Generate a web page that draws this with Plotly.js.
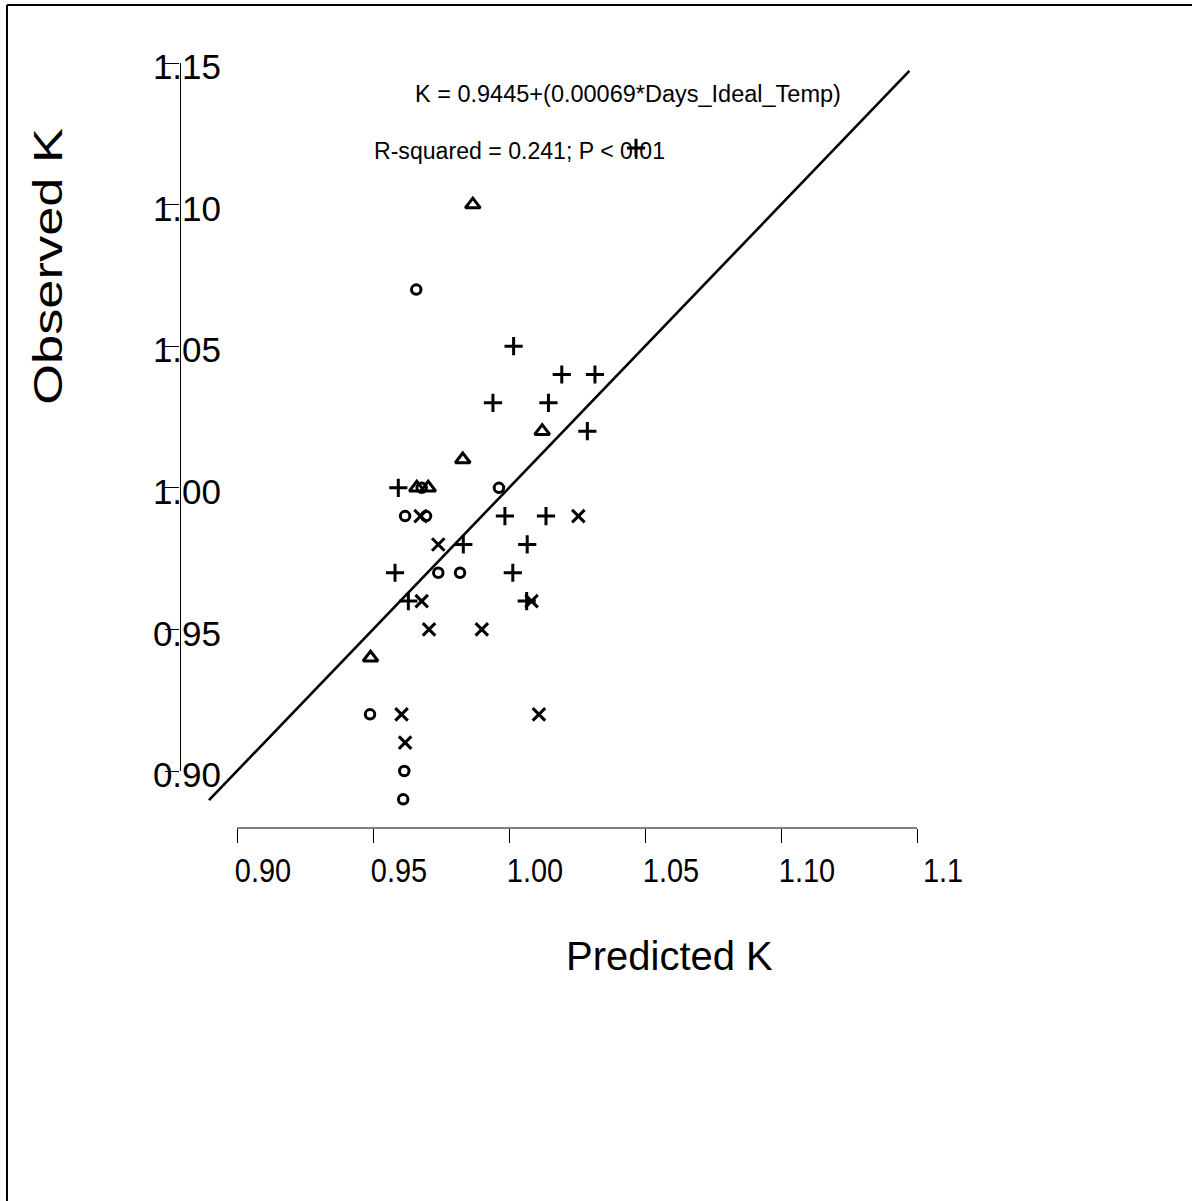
<!DOCTYPE html>
<html>
<head>
<meta charset="utf-8">
<script src="https://cdn.plot.ly/plotly-3.0.1.min.js"></script>
<style>
  html, body { margin: 0; padding: 0; background: #ffffff; }
  #chart { width: 1192px; height: 1201px; }
</style>
</head>
<body>
<div id="chart"></div>
<script>
// ---- data (Predicted K on x, Observed K on y) ----
const circlePredicted = [0.9659, 0.9679, 0.9963, 0.9618, 0.9695, 0.9740, 0.9820, 0.9489, 0.9615, 0.9611];
const circleObserved  = [1.07,   1.00,   1.00,   0.99,   0.99,   0.97,   0.97,   0.92,   0.90,   0.89];

const trianglePredicted = [0.9867, 1.0122, 0.9830, 0.9661, 0.9703, 0.9491];
const triangleObserved  = [1.10,   1.02,   1.01,   1.00,   1.00,   0.94];

const plusPredicted = [1.0467, 1.0017, 1.0194, 1.0316, 0.9941, 1.0145, 1.0288, 0.9593, 0.9985, 1.0136, 0.9832, 1.0067, 0.9581, 1.0014, 0.9630, 1.0065];
const plusObserved  = [1.12,   1.05,   1.04,   1.04,   1.03,   1.03,   1.02,   1.00,   0.99,   0.99,   0.98,   0.98,   0.97,   0.97,   0.96,   0.96];

const crossPredicted = [0.9675, 1.0255, 0.9740, 0.9679, 1.0083, 0.9706, 0.9900, 0.9605, 1.0110, 0.9618];
const crossObserved  = [0.99,   0.99,   0.98,   0.96,   0.96,   0.95,   0.95,   0.92,   0.92,   0.91];

const lineX = [0.8897, 1.1472];
const lineY = [0.8897, 1.1472];

const tickValues = [0.90, 0.95, 1.00, 1.05, 1.10, 1.15];
const xTickLabels = ["0.90", "0.95", "1.00", "1.05", "1.10", "1.1"];
const yTickLabels = ["0.90", "0.95", "1.00", "1.05", "1.10", "1.15"];

const equationText = "K = 0.9445+(0.00069*Days_Ideal_Temp)";
const statsText = "R-squared = 0.241; P < 0.01";
const xTitle = "Predicted K";
const yTitle = "Observed K";

// ---- traces ----
const FONT = "Liberation Sans, Arial, Helvetica, sans-serif";

function pts(x, y, symbol, size, name) {
  return {
    type: "scatter", mode: "markers", x: x, y: y, name: name,
    marker: { symbol: symbol, size: size, color: "#000000",
              line: { color: "#000000", width: 3 } },
    showlegend: false, cliponaxis: false
  };
}

const traces = [
  { type: "scatter", mode: "lines", x: lineX, y: lineY, name: "1:1",
    line: { color: "#000000", width: 2.6 }, showlegend: false },
  pts(circlePredicted, circleObserved, "circle-open", 9.5, "circle"),
  pts(trianglePredicted, triangleObserved, "triangle-up-open", 13, "triangle"),
  pts(plusPredicted, plusObserved, "cross-thin-open", 13, "plus"),
  pts(crossPredicted, crossObserved, "x-thin-open", 12.5, "x")
];

// plot area: x 180..960 px, y 40..828 px
const layout = {
  width: 1192, height: 1201,
  margin: { l: 180, r: 232, t: 40, b: 373, pad: 0 },
  paper_bgcolor: "#ffffff", plot_bgcolor: "rgba(0,0,0,0)",
  font: { family: FONT, color: "#000000" },
  showlegend: false,
  xaxis: {
    range: [0.879044, 1.165809],
    showgrid: false, zeroline: false, showline: false,
    ticks: "outside", ticklen: 14, tickwidth: 1, tickcolor: "#000000",
    tickmode: "array", tickvals: tickValues, ticktext: xTickLabels,
    tickfont: { family: FONT, size: 34, color: "#000000" },
    ticklabelshift: 26, ticklabelstandoff: -2
  },
  yaxis: {
    range: [0.879873, 1.158121],
    showgrid: false, zeroline: false, showline: false,
    ticks: "outside", ticklen: 14, tickwidth: 1, tickcolor: "#000000",
    tickmode: "array", tickvals: tickValues, ticktext: yTickLabels,
    tickfont: { family: FONT, size: 35, color: "#000000" },
    ticklabelstandoff: -63, ticklabelshift: 4
  },
  shapes: [
    { type: "line", xref: "x", yref: "paper", x0: 0.90, x1: 1.15, y0: 0, y1: 0,
      line: { color: "#000000", width: 1 } },
    { type: "line", xref: "paper", yref: "y", x0: 0.5 / 780, x1: 0.5 / 780, y0: 0.90, y1: 1.15,
      line: { color: "#000000", width: 1 } },
    { type: "line", xref: "paper", yref: "paper", x0: -0.2218, x1: 1.31, y0: 1.0444, y1: 1.0444,
      line: { color: "#000000", width: 2 } },
    { type: "line", xref: "paper", yref: "paper", x0: -0.2218, x1: -0.2218, y0: 1.0444, y1: -0.48,
      line: { color: "#000000", width: 2 } }
  ],
  annotations: [
    { text: equationText, xref: "paper", yref: "paper", x: (413 - 180) / 780, y: (828 - 94) / 788,
      xanchor: "left", yanchor: "middle", showarrow: false,
      font: { family: FONT, size: 23.5, color: "#000000" } },
    { text: statsText, xref: "paper", yref: "paper", x: (372 - 180) / 780, y: (828 - 151) / 788,
      xanchor: "left", yanchor: "middle", showarrow: false,
      font: { family: FONT, size: 23.1, color: "#000000" } },
    { text: xTitle, xref: "paper", yref: "paper", x: (669 - 180) / 780, y: (828 - 956) / 788,
      xanchor: "center", yanchor: "middle", showarrow: false,
      font: { family: FONT, size: 40, color: "#000000" } },
    { text: yTitle, xref: "paper", yref: "paper", x: (48 - 180) / 780, y: (828 - 266) / 788,
      xanchor: "center", yanchor: "middle", showarrow: false, textangle: -90,
      font: { family: FONT, size: 40, color: "#000000" } }
  ]
};

function squeeze(el, factor) {
  const w = el.getComputedTextLength();
  el.setAttribute("textLength", (w * factor).toFixed(1));
  el.setAttribute("lengthAdjust", "spacingAndGlyphs");
}

Plotly.newPlot("chart", traces, layout, { staticPlot: true, displayModeBar: false }).then(function (gd) {
  // the x tick labels of the original are set in a narrower face
  gd.querySelectorAll(".xtick text").forEach(function (t) { squeeze(t, 0.85); });
  // the y title of the original is drawn elongated along its baseline
  gd.querySelectorAll(".annotation-text").forEach(function (t) {
    if (t.textContent === yTitle) squeeze(t, 1.31);
  });
});
</script>
</body>
</html>
